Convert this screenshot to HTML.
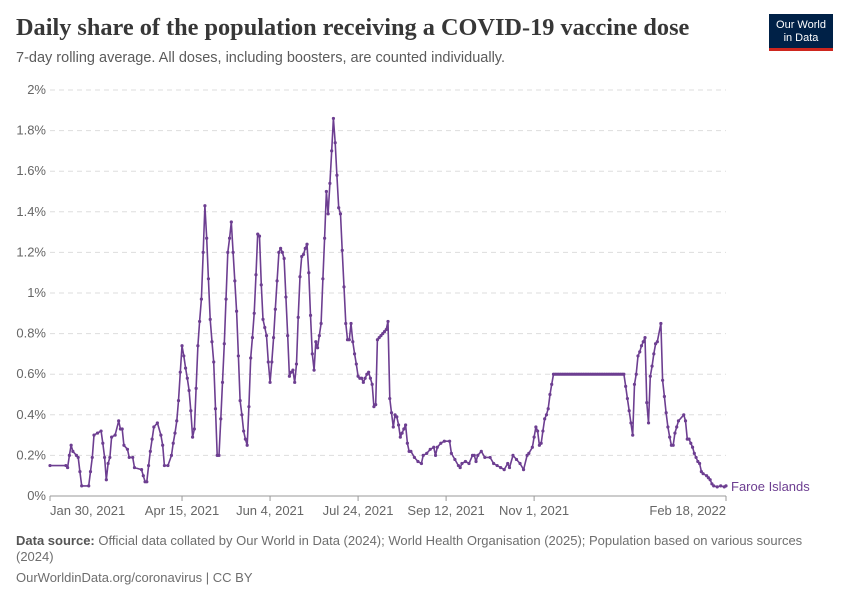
<!DOCTYPE html>
<html><head><meta charset="utf-8"><style>
body{margin:0;background:#fff;font-family:"Liberation Sans",sans-serif;}
#wrap{position:relative;width:850px;height:600px;overflow:hidden;}
.title{position:absolute;left:16px;top:14px;font-family:"Liberation Serif",serif;font-weight:bold;font-size:24.3px;color:#373737;}
.sub{position:absolute;left:16px;top:50px;font-size:14.5px;color:#5b5b5b;}
.logo{position:absolute;left:769px;top:14px;width:64px;height:37px;background:#002147;color:#fff;font-size:11px;text-align:center;line-height:13px;padding-top:5px;box-sizing:border-box;border-bottom:3px solid #ce261e;}
.foot{position:absolute;left:16px;font-size:13px;color:#6e6e6e;}
</style></head><body>
<div id="wrap">
<div class="title">Daily share of the population receiving a COVID-19 vaccine dose</div>
<div class="sub">7-day rolling average. All doses, including boosters, are counted individually.</div>
<div class="logo">Our World<br>in Data</div>
<svg id="chart" width="850" height="600" style="position:absolute;left:0;top:0"></svg>
<div class="foot" style="top:533px;line-height:16px;width:790px"><b style="color:#555">Data source:</b> Official data collated by Our World in Data (2024); World Health Organisation (2025); Population based on various sources (2024)</div>
<div class="foot" style="top:570px">OurWorldinData.org/coronavirus | CC BY</div>
</div>
<script>
const days=[0,9,10,11,12,13,15,16,17,18,22,23,24,25,27,29,30,31,32,33,34,35,37,39,40,41,42,44,45,47,48,52,53,54,55,56,57,58,59,61,63,64,65,67,69,70,71,72,73,74,75,76,77,78,79,80,81,82,83,84,85,86,87,88,89,90,91,92,93,94,95,96,97,98,99,100,101,102,103,104,105,106,107,108,109,110,111,112,113,114,115,116,117,118,119,120,121,122,123,124,125,126,127,128,129,130,131,132,133,134,135,136,137,138,139,140,141,142,143,144,145,146,147,148,149,150,151,152,153,154,155,156,157,158,159,160,161,162,163,164,165,166,167,168,169,170,171,172,173,174,175,176,177,178,179,180,181,182,183,184,185,186,187,188,189,190,191,192,193,194,195,196,197,198,199,200,201,202,203,204,205,207,209,211,212,214,216,218,219,220,222,224,227,228,230,232,233,234,236,238,240,241,242,243,245,247,250,252,254,256,258,260,261,263,265,267,269,271,272,274,275,276,277,278,279,280,281,282,283,284,285,286,287,288,289,290,291,292,293,294,295,296,297,298,299,300,301,302,303,304,305,306,307,308,309,310,311,312,313,314,315,316,317,318,319,320,321,322,323,324,325,326,327,328,329,330,331,332,333,334,335,336,337,338,339,340,341,342,343,344,345,347,348,349,350,351,352,353,354,355,356,357,360,361,362,363,364,365,366,367,368,369,370,371,373,374,375,376,377,379,381,383,384];
const values=[.15,.15,.14,.2,.25,.22,.2,.19,.12,.05,.05,.12,.19,.3,.31,.32,.26,.19,.08,.16,.19,.29,.3,.37,.33,.33,.25,.23,.19,.19,.14,.13,.1,.07,.07,.15,.22,.28,.34,.36,.3,.25,.15,.15,.2,.26,.31,.37,.47,.61,.74,.69,.63,.58,.52,.42,.29,.33,.53,.74,.86,.97,1.2,1.43,1.27,1.07,.87,.76,.66,.43,.2,.2,.38,.56,.75,.97,1.2,1.27,1.35,1.2,1.06,.91,.69,.47,.4,.32,.28,.25,.44,.68,.78,.9,1.09,1.29,1.28,1.04,.87,.83,.79,.66,.56,.66,.78,.92,1.06,1.2,1.22,1.2,1.17,.98,.79,.59,.61,.62,.56,.65,.88,1.08,1.18,1.19,1.22,1.24,1.1,.89,.7,.62,.76,.73,.79,.85,1.07,1.27,1.5,1.39,1.54,1.7,1.86,1.74,1.58,1.42,1.39,1.21,1.03,.85,.77,.77,.85,.76,.7,.65,.59,.58,.58,.56,.58,.6,.61,.58,.55,.44,.45,.77,.78,.79,.8,.81,.82,.86,.48,.41,.34,.4,.39,.35,.29,.31,.33,.35,.26,.22,.22,.19,.17,.16,.2,.21,.23,.24,.2,.24,.26,.27,.27,.21,.18,.15,.14,.16,.17,.16,.2,.2,.17,.2,.22,.19,.19,.16,.15,.14,.13,.16,.14,.2,.18,.16,.13,.2,.21,.24,.29,.34,.32,.25,.26,.32,.38,.4,.43,.5,.55,.6,.6,.6,.6,.6,.6,.6,.6,.6,.6,.6,.6,.6,.6,.6,.6,.6,.6,.6,.6,.6,.6,.6,.6,.6,.6,.6,.6,.6,.6,.6,.6,.6,.6,.6,.6,.6,.6,.6,.6,.6,.54,.48,.42,.36,.3,.55,.6,.69,.71,.74,.76,.78,.46,.36,.59,.64,.7,.75,.76,.85,.57,.49,.41,.34,.29,.25,.25,.31,.34,.37,.4,.37,.28,.28,.26,.24,.21,.19,.17,.16,.12,.11,.1,.09,.08,.06,.05,.045,.05,.045,.05];
const yTicks=[0,0.2,0.4,0.6,0.8,1,1.2,1.4,1.6,1.8,2];
const yTickLabels=["0%","0.2%","0.4%","0.6%","0.8%","1%","1.2%","1.4%","1.6%","1.8%","2%"];
const xTickDays=[0,75,125,175,225,275,384];
const xTickLabels=["Jan 30, 2021","Apr 15, 2021","Jun 4, 2021","Jul 24, 2021","Sep 12, 2021","Nov 1, 2021","Feb 18, 2022"];
const X0=50,X1=726,Y0=496,Y1=90,DMAX=384,VMAX=2;
const xs=d=>X0+(X1-X0)*d/DMAX, ys=v=>Y0-(Y0-Y1)*v/VMAX;
const svg=document.getElementById('chart'),NS='http://www.w3.org/2000/svg';
function mk(t,a){const e=document.createElementNS(NS,t);for(const k in a)e.setAttribute(k,a[k]);svg.appendChild(e);return e;}
yTicks.forEach((v,i)=>{
 if(v>0){const g=mk('line',{x1:X0,x2:X1,y1:ys(v),y2:ys(v),stroke:'#ddd','stroke-dasharray':'5,4'});
 
 }
 const t=mk('text',{x:46,y:ys(v)+4,'text-anchor':'end','font-size':13,fill:'#666','font-family':'Liberation Sans,sans-serif'});
 t.textContent=yTickLabels[i];
 
 
});
const ax=mk('line',{x1:X0,x2:X1,y1:Y0,y2:Y0,stroke:'#999'});


xTickDays.forEach((d,i)=>{
 const x=xs(d);
 const tk=mk('line',{x1:x,x2:x,y1:Y0,y2:Y0+5,stroke:'#999'});
 
 
 let anchor='middle',tx=x;
 if(i===0){anchor='start';tx=x;}
 if(i===xTickDays.length-1){anchor='end';tx=x;}
 const t=mk('text',{x:tx,y:515,'text-anchor':anchor,'font-size':13,fill:'#666','font-family':'Liberation Sans,sans-serif'});
 t.textContent=xTickLabels[i];
 
 
});
const pts=days.map((d,i)=>xs(d).toFixed(1)+','+ys(values[i]).toFixed(1)).join(' ');
const pl=mk('polyline',{points:pts,fill:'none',stroke:'#6d3e91','stroke-width':1.6,'stroke-linejoin':'round'});


days.forEach((d,i)=>{
 const c=mk('circle',{cx:xs(d),cy:ys(values[i]),r:1.6,fill:'#6d3e91'});
 
 
});
const lab=mk('text',{x:731,y:ys(values[values.length-1])+5,'font-size':13,fill:'#6d3e91','font-family':'Liberation Sans,sans-serif'});
lab.textContent='Faroe Islands';


</script>
</body></html>
